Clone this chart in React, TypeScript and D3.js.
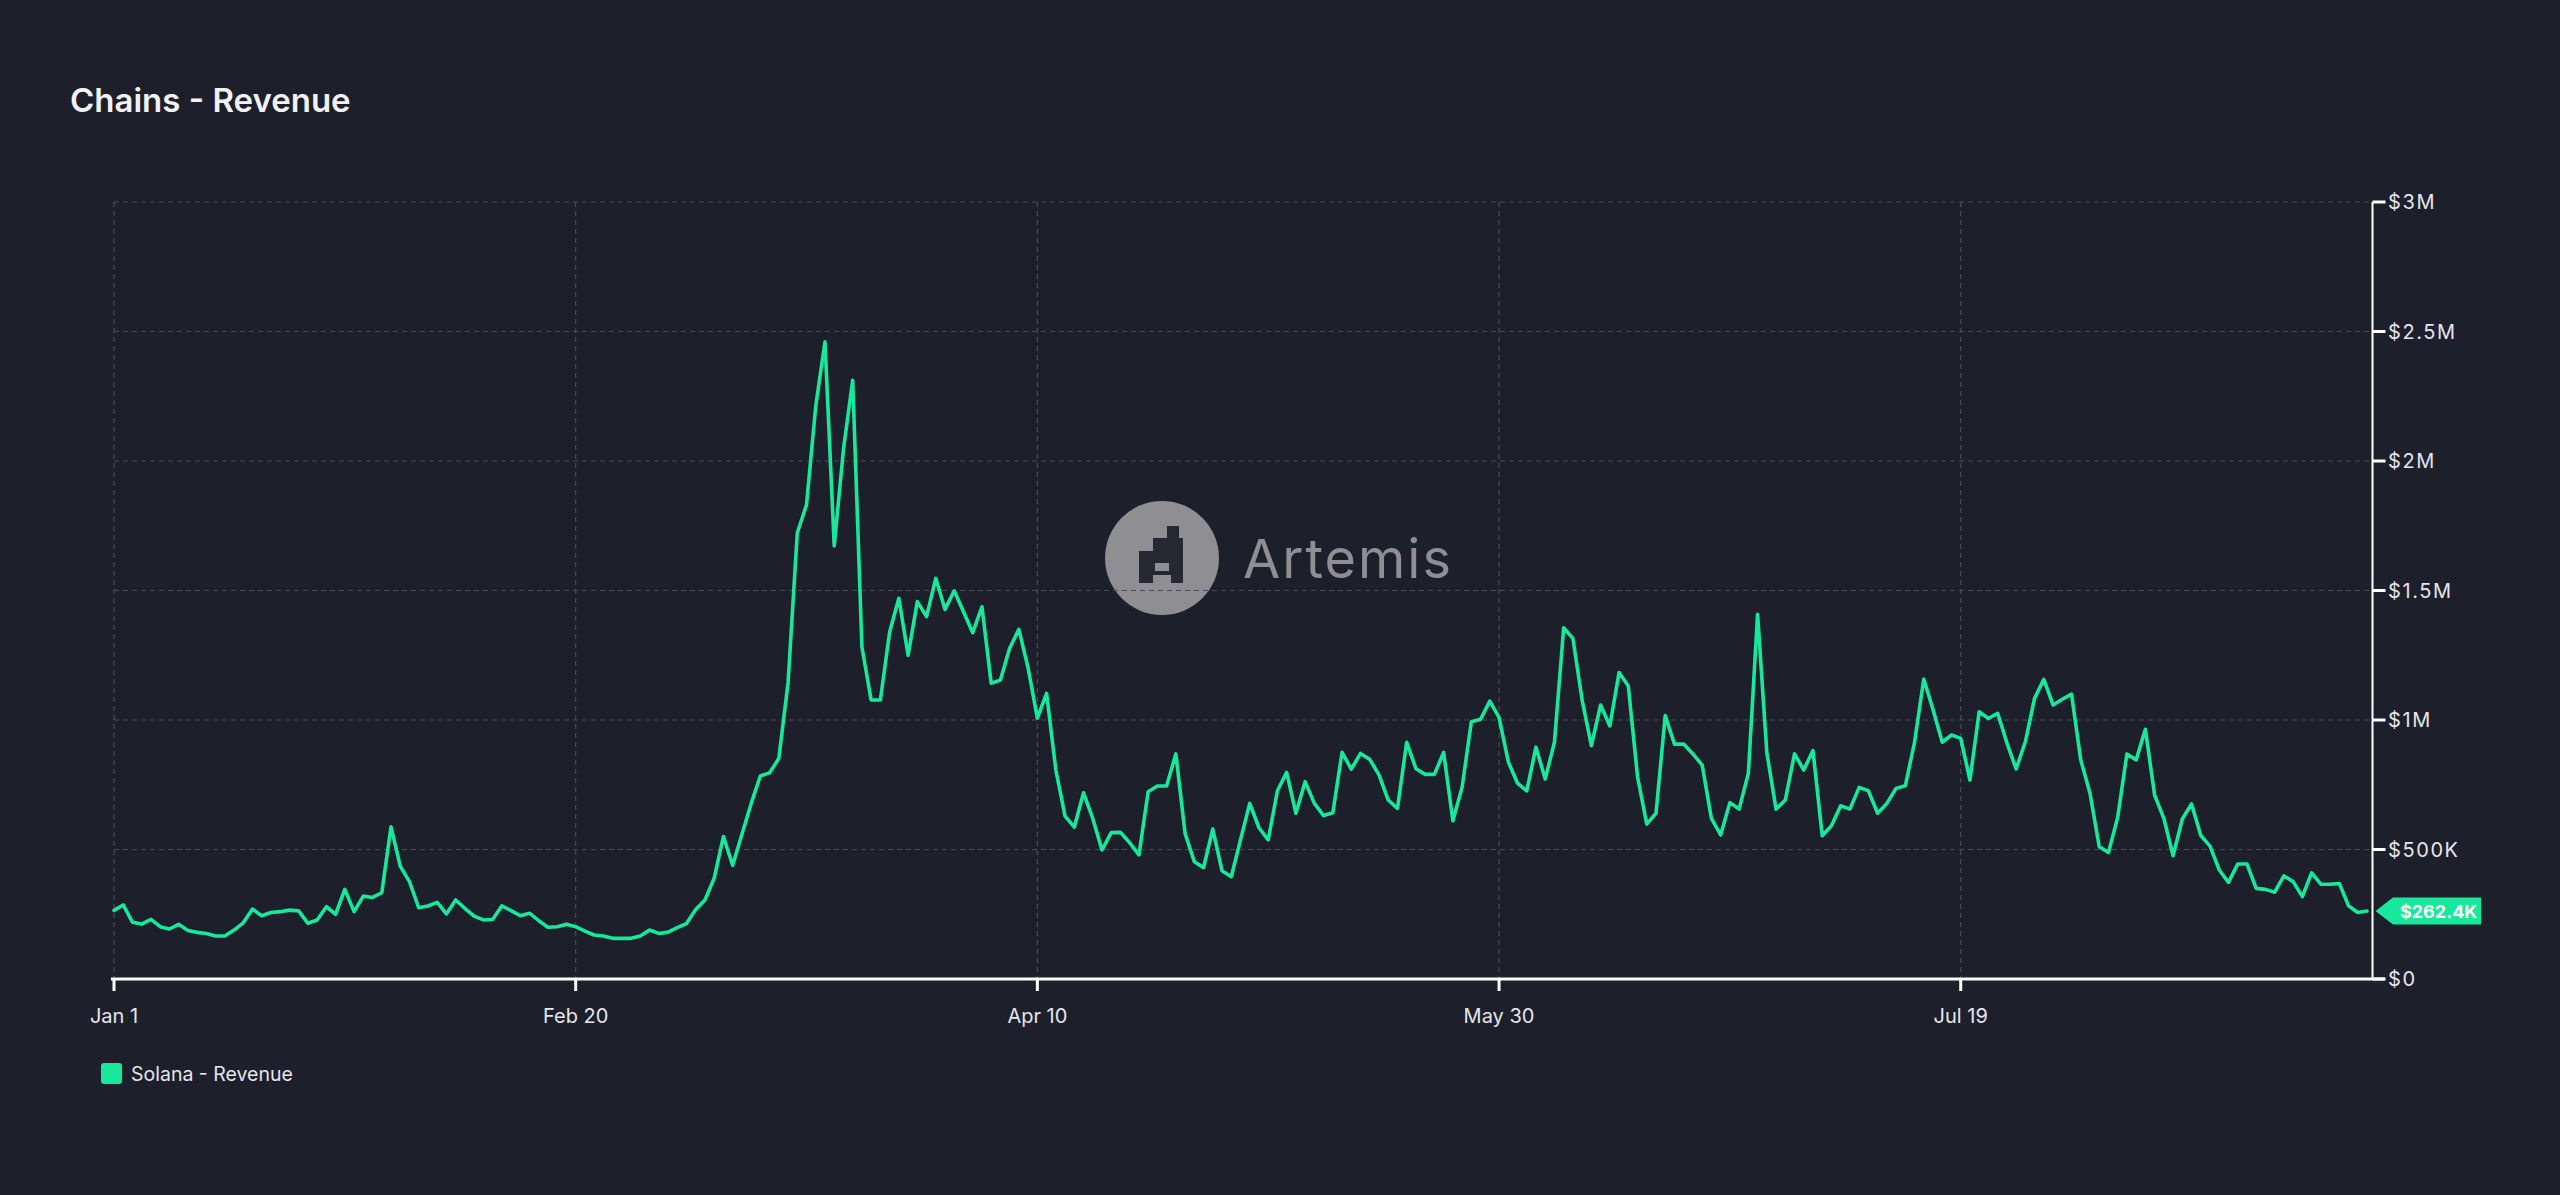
import React from "react";
import * as d3 from "d3";

// Daily Solana revenue, in thousands of USD, 2024
const janValues = [265, 286, 219, 212, 230, 202, 193, 211, 187, 180, 176, 166, 166, 189, 217, 270, 244, 257, 260, 266, 263, 215, 228, 279, 250, 346, 260, 320, 315, 333, 588];
const febValues = [436, 376, 275, 282, 296, 251, 305, 273, 243, 228, 230, 282, 264, 244, 254, 225, 200, 202, 211, 202, 185, 170, 166, 157, 157, 157, 166, 189, 176];
const marValues = [181, 198, 214, 268, 305, 389, 550, 439, 558, 677, 784, 796, 851, 1143, 1722, 1831, 2212, 2460, 1672, 2044, 2312, 1282, 1077, 1077, 1340, 1470, 1250, 1457, 1399, 1547, 1427];
const aprValues = [1499, 1418, 1337, 1437, 1142, 1154, 1277, 1350, 1200, 1007, 1103, 807, 629, 586, 719, 620, 498, 565, 566, 526, 479, 723, 745, 745, 869, 562, 453, 430, 579, 418];
const mayValues = [395, 537, 678, 584, 537, 727, 798, 640, 762, 678, 631, 642, 875, 810, 871, 848, 788, 691, 659, 914, 812, 790, 790, 875, 611, 740, 993, 1003, 1073, 1010, 839];
const junValues = [756, 726, 895, 772, 914, 1356, 1315, 1077, 901, 1058, 977, 1183, 1131, 781, 598, 640, 1017, 907, 907, 869, 826, 620, 556, 681, 656, 794, 1408, 875, 656, 691];
const julValues = [869, 807, 882, 553, 592, 669, 656, 740, 727, 640, 678, 736, 746, 914, 1158, 1040, 914, 942, 929, 768, 1032, 1006, 1026, 912, 811, 916, 1084, 1157, 1058, 1080, 1100];
const augValues = [846, 717, 511, 488, 624, 869, 846, 964, 710, 620, 476, 618, 676, 554, 513, 421, 373, 444, 444, 350, 346, 335, 398, 376, 318, 410, 366, 366, 369, 283, 257];
const sepValues = [262.4];

const revenueK = [...janValues, ...febValues, ...marValues, ...aprValues, ...mayValues, ...junValues, ...julValues, ...augValues, ...sepValues];

const startDate = new Date(2024, 0, 1);
const xTickDates = ["2024-01-01", "2024-02-20", "2024-04-10", "2024-05-30", "2024-07-19"];
const yTickValues = [0, 500000, 1000000, 1500000, 2000000, 2500000, 3000000];
const yTickLabels = ["$0", "$500K", "$1M", "$1.5M", "$2M", "$2.5M", "$3M"];
const seriesName = "Solana - Revenue";
const title = "Chains - Revenue";

const BG = "#1d1f2b";
const GREEN = "#17e89b";
const GRID = "#4b4d5a";
const TEXT = "#e6e6ec";
const FONT = "Inter, 'Noto Sans', sans-serif";

export default function App() {
  const W = 2560, H = 1195;
  const left = 114, right = 2367, axisX = 2372.5, top = 202, bottom = 979;

  const data = revenueK.map((v, i) => ({ date: d3.timeDay.offset(startDate, i), value: v * 1000 }));
  const x = d3.scaleTime().domain([startDate, data[data.length - 1].date]).range([left, right]);
  const y = d3.scaleLinear().domain([0, 3000000]).range([bottom, top]);
  const line = d3.line<any>().x(d => x(d.date)).y(d => y(d.value));
  const fmt = d3.timeFormat("%b %-d");
  const parse = d3.timeParse("%Y-%m-%d");
  const xTicks = xTickDates.map(s => parse(s) as Date);

  const last = data[data.length - 1];
  const ly = y(last.value);
  const lastLabel = "$" + d3.format(".1f")(last.value / 1000) + "K";

  const LOGO = "#8e8e93";
  const LOGO_DARK = "#26272f";

  return (
    <div style={{ position: "absolute", left: 0, top: 0, width: W, height: H, background: BG }}>
      <svg width={W} height={H} style={{ display: "block", fontFamily: FONT }}>
        <rect width={W} height={H} fill={BG} />
        <text x={70} y={112} fill="#f2f2f6" fontSize={33} fontWeight={600}>{title}</text>

        {/* watermark */}
        <g>
          <circle cx={1162} cy={558} r={57} fill={LOGO} />
          <rect x={1139} y={538} width={44} height={45} fill={LOGO_DARK} />
          <rect x={1139} y={538} width={14} height={13} fill={LOGO} />
          <rect x={1155} y={563} width={14} height={8} fill={LOGO} />
          <rect x={1153} y={575} width={18} height={8} fill={LOGO} />
          <rect x={1167} y={526} width={12} height={12} fill={LOGO_DARK} />
          <text x={1243} y={578} fill={LOGO} fontSize={54} fontWeight={400} letterSpacing={2}>Artemis</text>
        </g>

        {/* grid */}
        {yTickValues.slice(1).map(v => (
          <line key={"gy" + v} x1={left} x2={axisX} y1={y(v)} y2={y(v)} stroke={GRID} strokeWidth={1.2} strokeDasharray="5 4" />
        ))}
        {xTicks.map((d, i) => (
          <line key={"gx" + i} x1={x(d)} x2={x(d)} y1={top} y2={bottom} stroke={GRID} strokeWidth={1.2} strokeDasharray="5 4" />
        ))}

        {/* series line */}
        <path d={line(data) || ""} fill="none" stroke={GREEN} strokeWidth={3.6} strokeLinejoin="round" strokeLinecap="round" />

        {/* x axis */}
        <line x1={left - 3} x2={axisX + 12} y1={bottom} y2={bottom} stroke="#ffffff" strokeWidth={3} />
        {xTicks.map((d, i) => (
          <g key={"xt" + i}>
            <line x1={x(d)} x2={x(d)} y1={bottom} y2={bottom + 12} stroke="#ffffff" strokeWidth={3} />
            <text x={x(d)} y={1023} fill={TEXT} fontSize={20} textAnchor="middle">{fmt(d)}</text>
          </g>
        ))}

        {/* y axis */}
        <line x1={axisX} x2={axisX} y1={top} y2={bottom} stroke="#ffffff" strokeWidth={2} />
        {yTickValues.map((v, i) => (
          <g key={"yt" + v}>
            <line x1={axisX} x2={axisX + 13} y1={y(v)} y2={y(v)} stroke="#ffffff" strokeWidth={3} />
            <text x={2388} y={y(v) + 7} fill={TEXT} fontSize={20} letterSpacing={1.6}>{yTickLabels[i]}</text>
          </g>
        ))}

        {/* last value tag */}
        <path d={`M${axisX + 3},${ly} L${2393},${ly - 13.5} L${2481},${ly - 13.5} L${2481},${ly + 13.5} L${2393},${ly + 13.5} Z`} fill={GREEN} />
        <text x={2400} y={ly + 6.5} fill="#ffffff" fontSize={18} fontWeight={700}>{lastLabel}</text>

        {/* legend */}
        <rect x={101} y={1063} width={21} height={21} rx={3} fill={GREEN} />
        <text x={131} y={1081} fill={TEXT} fontSize={19.5}>{seriesName}</text>
      </svg>
    </div>
  );
}
